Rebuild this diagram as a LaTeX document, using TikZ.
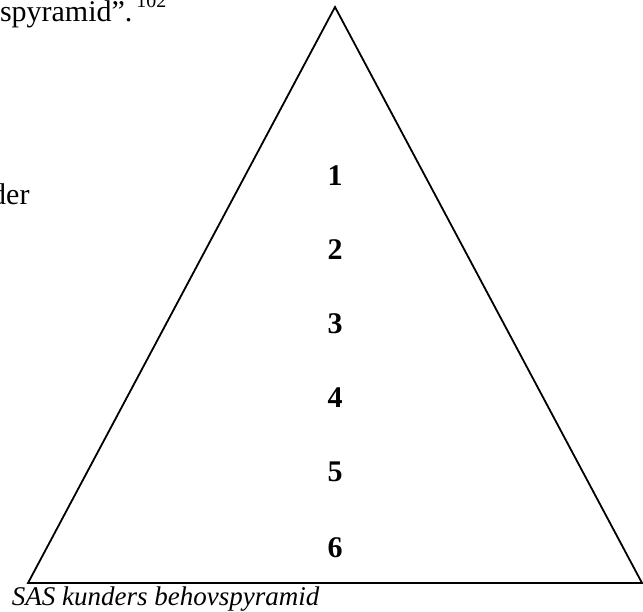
\documentclass[tikz,border=0pt]{standalone}
\usepackage{fontspec}
\setmainfont{Liberation Serif}
\tikzset{
  bodytext/.style={inner sep=0pt, outer sep=0pt, font=\fontsize{30}{36}\selectfont},
  levelnum/.style={inner sep=0pt, outer sep=0pt, anchor=base, font=\fontsize{30}{36}\selectfont\bfseries},
  captext/.style={inner sep=0pt, outer sep=0pt, anchor=base west, font=\fontsize{27}{32}\selectfont\itshape},
  pyrline/.style={draw=black, line width=1.8pt, line join=miter}
}
\begin{document}
\begin{tikzpicture}[x=1pt,y=-1pt]
\useasboundingbox (0,0) rectangle (643,611);
% surrounding text fragments
\node[bodytext, anchor=base west] (toptext) at (0,21) {spyramid”.\hspace{4pt}\raisebox{14pt}{\fontsize{20}{24}\selectfont 102}};
\node[bodytext, anchor=base east] (dertext) at (29.5,204) {der};
% pyramid
\coordinate (apex) at (335,7);
\coordinate (bl) at (28,583);
\coordinate (br) at (642,583);
\draw[pyrline] (apex) -- (br) -- (bl) -- cycle;
% level numbers
\node[levelnum] (n1) at (335,185) {1};
\node[levelnum] (n2) at (335,259) {2};
\node[levelnum] (n3) at (335,333) {3};
\node[levelnum] (n4) at (335,407) {4};
\node[levelnum] (n5) at (335,481) {5};
\node[levelnum] (n6) at (335,557) {6};
% caption
\node[captext] (cap) at (12,605) {SAS kunders behovspyramid};
\end{tikzpicture}
\end{document}
